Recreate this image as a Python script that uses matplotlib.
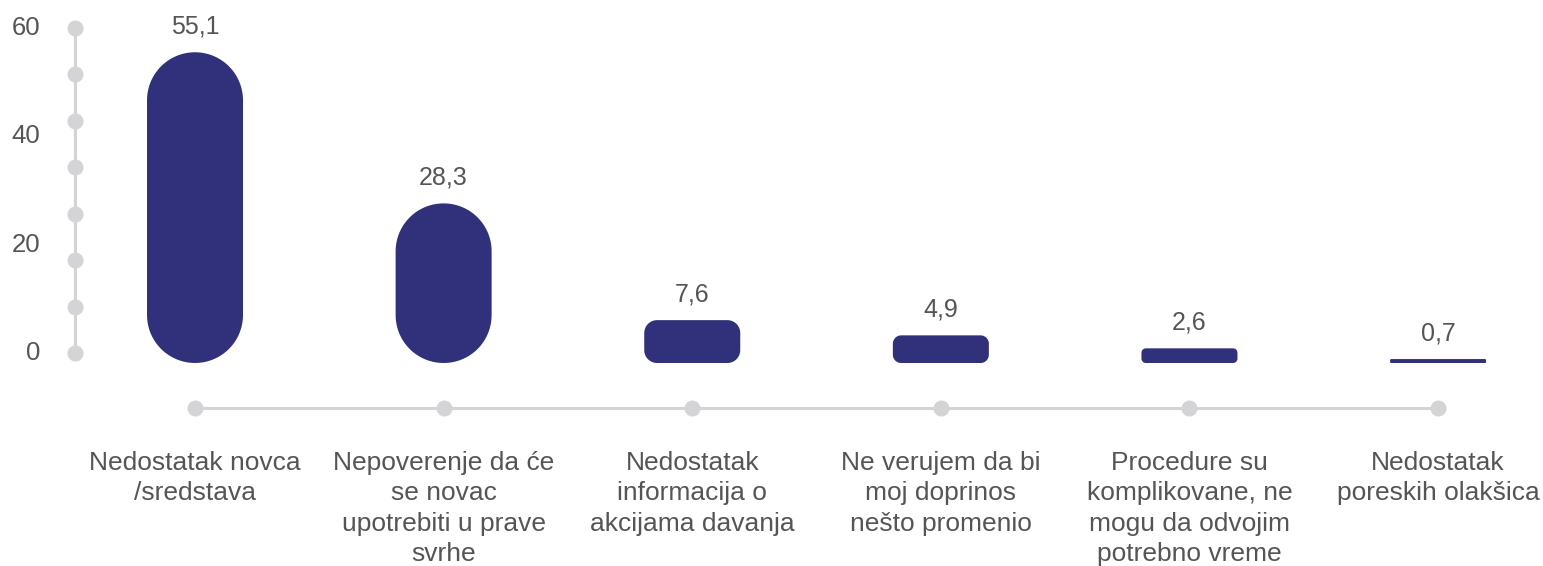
import numpy as np
import matplotlib.pyplot as plt
from matplotlib.patches import Polygon

plt.rcParams['font.family'] = ['Liberation Sans', 'DejaVu Sans']

categories = [
    'Nedostatak novca\n/sredstava',
    'Nepoverenje da će\nse novac\nupotrebiti u prave\nsvrhe',
    'Nedostatak\ninformacija o\nakcijama davanja',
    'Ne verujem da bi\nmoj doprinos\nnešto promenio',
    'Procedure su\nkomplikovane, ne\nmogu da odvojim\npotrebno vreme',
    'Nedostatak\nporeskih olakšica',
]
values = [55.1, 28.3, 7.6, 4.9, 2.6, 0.7]
yticks = [0, 20, 40, 60]

bar_color = '#31317b'
grey = '#d4d4d6'
text_color = '#555555'

W, H = 1543, 566
fig = plt.figure(figsize=(W / 100, H / 100), dpi=100)

# axis with the dotted scale (0 at y=353px, 60 at y=28px)
ax = fig.add_axes([75 / W, (H - 408) / H, (W - 75) / W, 380 / H])
xl = -0.4827
ax.set_xlim(xl, 5.422)
ax.set_ylim(-10.15, 60)
ax.axis('off')

ax.plot([xl, xl], [0, 60], color=grey, lw=2.2, clip_on=False, zorder=1)
ax.plot([xl] * 8, np.linspace(0, 60, 8), 'o', ms=10.5, color=grey,
        clip_on=False, zorder=2)
for t in yticks:
    ax.annotate(str(t), (xl, t), xytext=(-25, 0), textcoords='offset points',
                ha='right', va='center', fontsize=18.5, color=text_color)

x = np.arange(len(values))
ax.plot([x[0], x[-1]], [-10.15, -10.15], color=grey, lw=2.2, clip_on=False, zorder=1)
ax.plot(x, [-10.15] * len(x), 'o', ms=10.5, color=grey, clip_on=False, zorder=2)
for xi, lab in zip(x, categories):
    ax.annotate(lab, (xi, -10.15), xytext=(0, -31), textcoords='offset points',
                ha='center', va='top', fontsize=19, color=text_color,
                linespacing=1.33, annotation_clip=False)

# bars on their own scale: baseline at y=363px
ax2 = ax.twinx()
ax2.set_ylim(-7.98, 59.4)
ax2.axis('off')

p0 = ax2.transData.transform((0, 0))
p1 = ax2.transData.transform((1, 1))
px_x, px_y = p1[0] - p0[0], p1[1] - p0[1]
w_px = 96


def rounded_bar(cx, h_px, r_px):
    pts = []
    corners = [(w_px / 2 - r_px, r_px, -90), (w_px / 2 - r_px, h_px - r_px, 0),
               (-w_px / 2 + r_px, h_px - r_px, 90), (-w_px / 2 + r_px, r_px, 180)]
    for ccx, ccy, a0 in corners:
        a = np.radians(np.linspace(a0, a0 + 90, 30))
        pts += list(zip(ccx + r_px * np.cos(a), ccy + r_px * np.sin(a)))
    pts = np.array(pts)
    return np.column_stack([cx + pts[:, 0] / px_x, pts[:, 1] / px_y])


for xi, v in zip(x, values):
    h_px = v * px_y
    r_px = min(w_px / 2, 0.3 * h_px)
    ax2.add_patch(Polygon(rounded_bar(xi, h_px, r_px), closed=True,
                          fc=bar_color, ec='none', clip_on=False))
    ax2.annotate(f'{v:.1f}'.replace('.', ','), (xi, v), xytext=(0, 13.5),
                 textcoords='offset points', ha='center', va='baseline',
                 fontsize=18, color=text_color)

fig.savefig('out.png', dpi=100)
